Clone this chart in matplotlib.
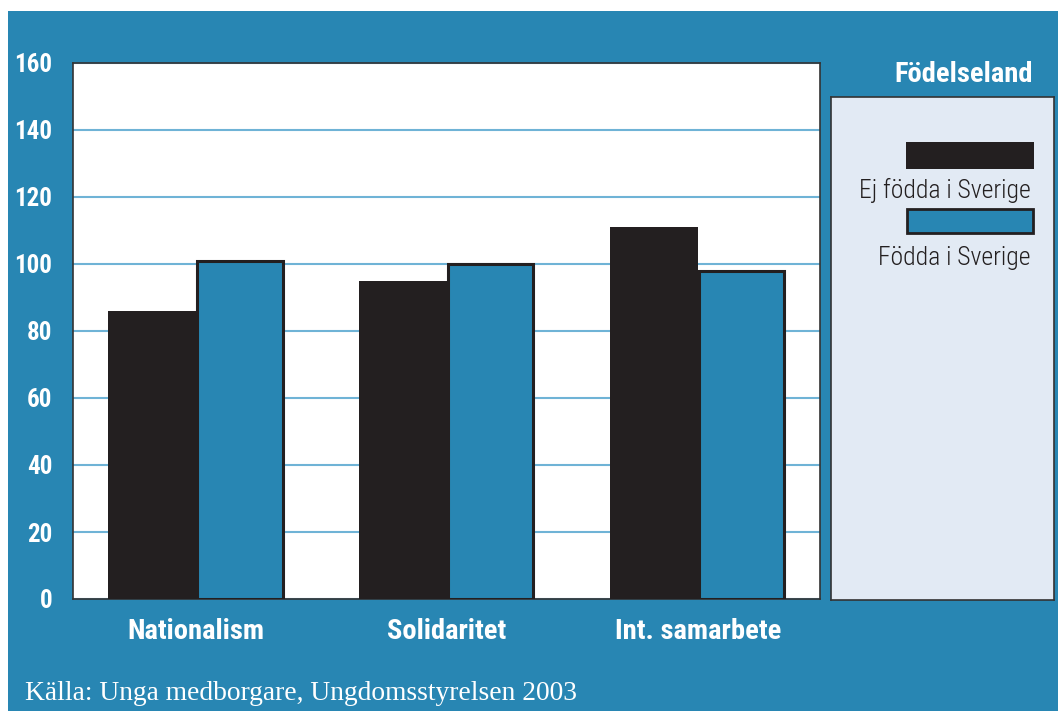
import matplotlib
matplotlib.use("Agg")
import matplotlib.pyplot as plt
from matplotlib.patches import Rectangle
from matplotlib import font_manager
import numpy as np

categories = ["Nationalism", "Solidaritet", "Int. samarbete"]
series_names = ["Ej födda i Sverige", "Födda i Sverige"]
ej_fodda = [86, 95, 111]
fodda = [101, 100, 98]
yticks = [0, 20, 40, 60, 80, 100, 120, 140, 160]
legend_title = "Födelseland"
source = "Källa: Unga medborgare, Ungdomsstyrelsen 2003"

BLUE = "#2886b3"
DARK = "#231f20"
GRID = "#6fb3d6"
PANEL = "#e2eaf4"

names = {f.name for f in font_manager.fontManager.ttflist}
COND = [n for n in ["Roboto Condensed", "Liberation Sans Narrow", "Roboto"] if n in names] + ["DejaVu Sans"]

W, H = 1058, 711
fig = plt.figure(figsize=(W / 100, H / 100), dpi=100)
fig.patch.set_facecolor("white")

bg = fig.add_axes([8 / W, 0, 1 - 8 / W, 1 - 11 / H])
bg.set_facecolor(BLUE)
bg.set_xticks([]); bg.set_yticks([])
for s in bg.spines.values():
    s.set_visible(False)

def px_axes(x0, y0, x1, y1):
    return fig.add_axes([x0 / W, 1 - y1 / H, (x1 - x0) / W, (y1 - y0) / H])

ax = px_axes(73, 63, 820, 599)
ax.set_facecolor("white")
x = np.arange(len(categories))
bw = 0.35
ax.bar(x - bw / 2, ej_fodda, width=bw, color=DARK, edgecolor=DARK, linewidth=0, zorder=3)
ax.bar(x + bw / 2, fodda, width=bw - 0.01, color=BLUE, edgecolor=DARK, linewidth=2.2, zorder=3)
ax.set_xlim(-0.49, 2.487)
ax.set_ylim(0, 160)
ax.set_yticks(yticks)
ax.set_yticklabels([str(t) for t in yticks], color="white", fontsize=18,
                   fontweight="bold", family=COND)
ax.set_xticks(x)
ax.set_xticklabels(categories, color="white", fontsize=20.5, fontweight="bold", family=COND)
ax.tick_params(axis="both", length=0)
ax.tick_params(axis="y", pad=15)
ax.tick_params(axis="x", pad=14)
ax.yaxis.grid(True, color=GRID, linewidth=1.5, zorder=1)
ax.set_axisbelow(True)
for s in ax.spines.values():
    s.set_color("#333333")
    s.set_linewidth(1.2)

lg = px_axes(831, 97, 1054, 600)
lg.set_facecolor(PANEL)
lg.set_xlim(831, 1054)
lg.set_ylim(600, 97)
lg.set_xticks([]); lg.set_yticks([])
for s in lg.spines.values():
    s.set_color("#333333")
    s.set_linewidth(1.2)
lg.add_patch(Rectangle((906, 142), 128, 27, facecolor=DARK, edgecolor="none"))
lg.text(1031, 190, series_names[0], ha="right", va="center", fontsize=18.5,
        color=DARK, family=COND, fontweight="light")
lg.add_patch(Rectangle((907, 209), 126, 24, facecolor=BLUE, edgecolor=DARK, linewidth=2))
lg.text(1031, 258, series_names[1], ha="right", va="center", fontsize=18.5,
        color=DARK, family=COND, fontweight="light")

fig.text(1033 / W, 1 - 75 / H, legend_title, ha="right", va="center", fontsize=20.5,
         fontweight="bold", color="white", family=COND)
fig.text(25 / W, 1 - 693 / H, source, ha="left", va="center", fontsize=19.8,
         color="white", family=["Liberation Serif", "DejaVu Serif"])

fig.savefig("out.png", dpi=100, facecolor=fig.get_facecolor())
